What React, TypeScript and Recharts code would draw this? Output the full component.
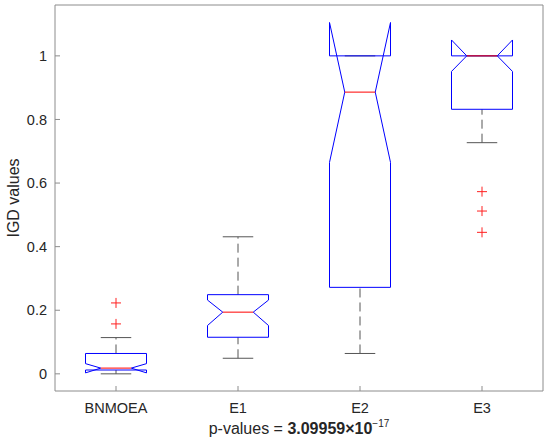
import { ComposedChart, Line, Scatter, XAxis, YAxis } from "recharts"

// values (notched boxplot, MATLAB style)
const categories = ["BNMOEA", "E1", "E2", "E3"]
const lowerWhisker = [0.0, 0.049, 0.064, 0.727]
const q1 = [0.012, 0.115, 0.272, 0.832]
const notchLow = [0.003, 0.152, 0.665, 0.951]
const median = [0.018, 0.194, 0.886, 1.0]
const notchHigh = [0.032, 0.232, 1.105, 1.05]
const q3 = [0.064, 0.249, 1.0, 1.0]
const upperWhisker = [0.114, 0.431, 1.0, 1.0]
const outliers = [[0.157, 0.223], [], [], [0.445, 0.512, 0.573]]
const yTicks = [0, 0.2, 0.4, 0.6, 0.8, 1]
const xTicks = [1, 2, 3, 4]

const BOX_HALF = 0.25
const NOTCH_HALF = 0.125

type Pt = { x: number; y: number | null }

const boxOutline: Pt[] = []
const medianLines: Pt[] = []
const whiskerLines: Pt[] = []
const capLines: Pt[] = []
const outlierPoints: { x: number; y: number }[] = []

categories.forEach((_, i) => {
  const c = i + 1
  const l = c - BOX_HALF
  const r = c + BOX_HALF
  const nl = c - NOTCH_HALF
  const nr = c + NOTCH_HALF
  boxOutline.push(
    { x: l, y: q1[i] },
    { x: l, y: notchLow[i] },
    { x: nl, y: median[i] },
    { x: l, y: notchHigh[i] },
    { x: l, y: q3[i] },
    { x: r, y: q3[i] },
    { x: r, y: notchHigh[i] },
    { x: nr, y: median[i] },
    { x: r, y: notchLow[i] },
    { x: r, y: q1[i] },
    { x: l, y: q1[i] },
    { x: c, y: null }
  )
  medianLines.push({ x: nl, y: median[i] }, { x: nr, y: median[i] }, { x: c, y: null })
  if (upperWhisker[i] > q3[i]) {
    whiskerLines.push({ x: c, y: q3[i] }, { x: c, y: upperWhisker[i] }, { x: c, y: null })
  }
  if (lowerWhisker[i] < q1[i]) {
    whiskerLines.push({ x: c, y: lowerWhisker[i] }, { x: c, y: q1[i] }, { x: c, y: null })
  }
  capLines.push(
    { x: nl, y: upperWhisker[i] },
    { x: nr, y: upperWhisker[i] },
    { x: c, y: null },
    { x: nl, y: lowerWhisker[i] },
    { x: nr, y: lowerWhisker[i] },
    { x: c, y: null }
  )
  outliers[i].forEach((v) => outlierPoints.push({ x: c, y: v }))
})

const AXIS_COLOR = "#8c8c8c"
const TEXT_COLOR = "#262626"

const PlusMarker = (props: any) => {
  const { cx, cy } = props
  if (cx == null || cy == null) return null
  return (
    <g stroke="#ff2020" strokeWidth={1}>
      <line x1={cx - 5} y1={cy} x2={cx + 5} y2={cy} />
      <line x1={cx} y1={cy - 5} x2={cx} y2={cy + 5} />
    </g>
  )
}

const XTitle = (props: any) => {
  const { viewBox } = props
  const x = viewBox.x + viewBox.width / 2
  const y = viewBox.y + 43
  return (
    <text x={x} y={y} textAnchor="middle" fill={TEXT_COLOR} fontSize={16}>
      <tspan>p-values = </tspan>
      <tspan fontWeight="bold">3.09959×10</tspan>
      <tspan fontSize={10} dy={-7}>−17</tspan>
    </text>
  )
}

const YTitle = (props: any) => {
  const { viewBox } = props
  const x = viewBox.x + 19
  const y = viewBox.y + viewBox.height / 2
  return (
    <text x={x} y={y} textAnchor="middle" fill={TEXT_COLOR} fontSize={16} transform={`rotate(-90, ${x}, ${y})`}>
      IGD values
    </text>
  )
}

export default function App() {
  return (
    <div style={{ position: "absolute", left: 0, top: 0, width: 550, height: 444, background: "#fff" }}>
      <ComposedChart
        width={550}
        height={444}
        margin={{ top: 4, right: 6, bottom: 0, left: 0 }}
        style={{ fontFamily: "'Liberation Sans', Arial, sans-serif" }}
      >
        <XAxis
          dataKey="x"
          type="number"
          domain={[0.5, 4.5]}
          ticks={xTicks}
          allowDataOverflow
          height={53}
          tickFormatter={(v: number) => categories[v - 1]}
          tick={{ fill: TEXT_COLOR, fontSize: 14.5 }}
          stroke={AXIS_COLOR}
          tickSize={-5}
          tickMargin={17}
          label={{ content: XTitle }}
        />
        <XAxis
          xAxisId="top"
          dataKey="x"
          orientation="top"
          type="number"
          domain={[0.5, 4.5]}
          ticks={xTicks}
          allowDataOverflow
          height={1}
          tick={false}
          stroke={AXIS_COLOR}
          tickSize={-5}
        />
        <YAxis
          dataKey="y"
          type="number"
          domain={[-0.054, 1.16]}
          ticks={yTicks}
          allowDataOverflow
          width={55}
          tick={{ fill: TEXT_COLOR, fontSize: 14.5 }}
          stroke={AXIS_COLOR}
          tickSize={-5}
          tickMargin={13}
          label={{ content: YTitle }}
        />
        <YAxis
          yAxisId="right"
          dataKey="y"
          orientation="right"
          type="number"
          domain={[-0.054, 1.16]}
          ticks={yTicks}
          allowDataOverflow
          width={1}
          tick={false}
          stroke={AXIS_COLOR}
          tickSize={-5}
        />
        <Line
          data={whiskerLines}
          dataKey="y"
          type="linear"
          stroke="#555"
          strokeWidth={1}
          strokeDasharray="9 5"
          dot={false}
          activeDot={false}
          isAnimationActive={false}
        />
        <Line
          data={capLines}
          dataKey="y"
          type="linear"
          stroke="#555"
          strokeWidth={1}
          dot={false}
          activeDot={false}
          isAnimationActive={false}
        />
        <Line
          data={boxOutline}
          dataKey="y"
          type="linear"
          stroke="#0000ff"
          strokeWidth={1}
          dot={false}
          activeDot={false}
          isAnimationActive={false}
        />
        <Line
          xAxisId="top"
          yAxisId="right"
          data={medianLines}
          dataKey="y"
          type="linear"
          stroke="#ff0000"
          strokeWidth={1}
          dot={false}
          activeDot={false}
          isAnimationActive={false}
        />
        <Scatter data={outlierPoints} dataKey="y" shape={PlusMarker} isAnimationActive={false} />
      </ComposedChart>
    </div>
  )
}
